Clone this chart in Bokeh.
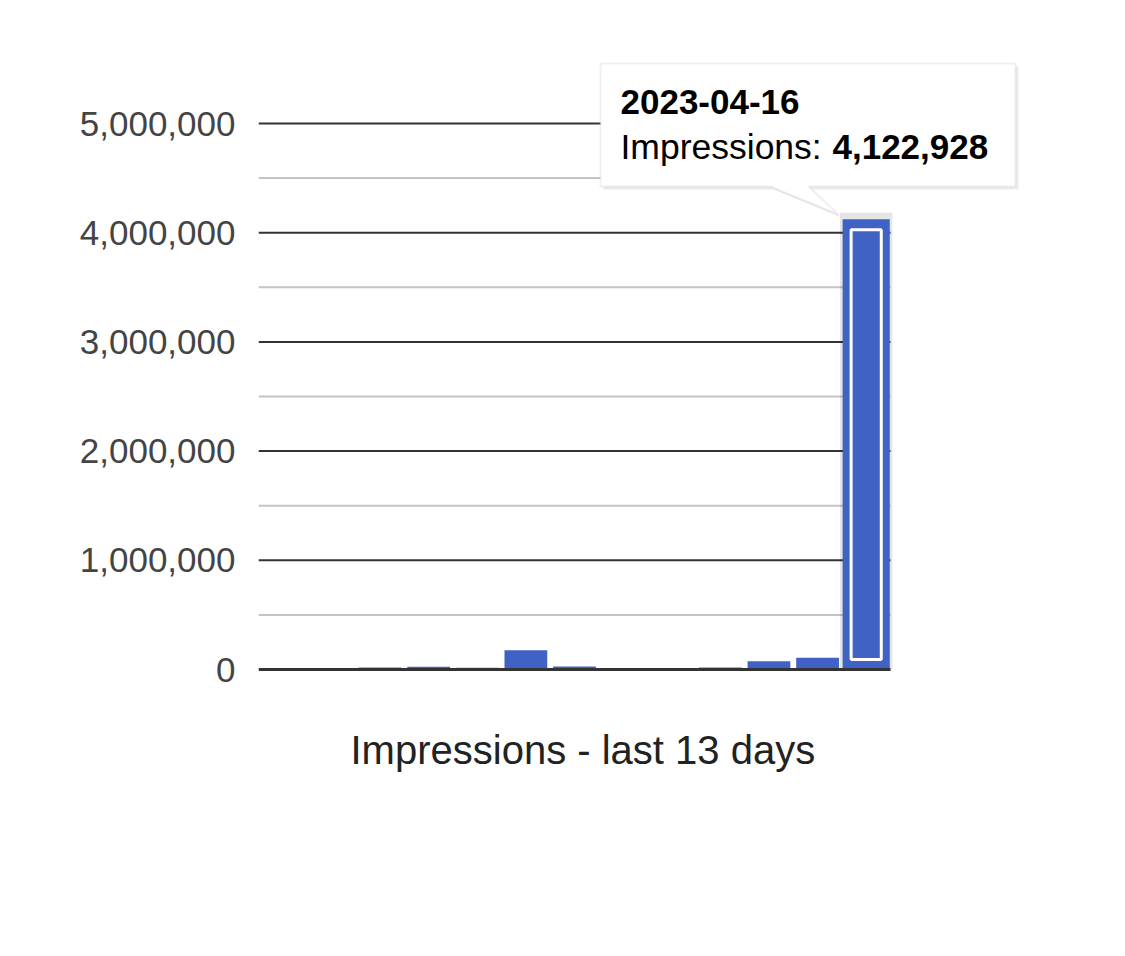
from bokeh.plotting import figure
from bokeh.models import (Range1d, FixedTicker, NumeralTickFormatter,
                          Label, PolyAnnotation, Title)
from bokeh.embed import file_html
from bokeh.resources import INLINE

# ---- data ----
dates = ["2023-04-04", "2023-04-05", "2023-04-06", "2023-04-07", "2023-04-08",
         "2023-04-09", "2023-04-10", "2023-04-11", "2023-04-12", "2023-04-13",
         "2023-04-14", "2023-04-15", "2023-04-16"]
impressions = [0, 0, 19000, 25000, 16000, 177000, 28000, 0, 0, 19000, 76000, 108000, 4122928]
y_max = 5000000
major_step = 1000000
title_text = "Impressions - last 13 days"
tip_date = dates[-1]
tip_label = "Impressions: "
tip_value = f"{impressions[-1]:,}"

FONT = "Liberation Sans"
BAR = "#4062C5"
W, H = 1117, 948

n = len(dates)
xs = list(range(n))
major_ticks = list(range(0, y_max + 1, major_step))
minor_ticks = [t + major_step // 2 for t in major_ticks[:-1]]

# layout (page pixels): chart area 258..890 wide, 5M at 123, 0 at 669
FL, FT, FB = 258, 55, 671
step_px = 632 / n
unit_px = 546 / y_max
y_start = -(FB - 669) / unit_px
y_end = y_start + (FB - FT) / unit_px
x_start = -0.5
x_end = x_start + (1026 - FL) / step_px
FW, FH = 1026 - FL, FB - FT

p = figure(width=W, height=H, output_backend="svg", toolbar_location=None,
           x_range=Range1d(x_start, x_end), y_range=Range1d(y_start, y_end),
           min_border_left=FL, min_border_right=W - FL - FW, min_border_top=FT,
           min_border_bottom=H - FT - FH, outline_line_color=None, tools="")
p.background_fill_color = "white"
p.border_fill_color = "white"
p.grid.visible = False
p.xaxis.visible = False

# grid lines limited to the chart area
left_edge, right_edge = xs[0] - 0.5, xs[-1] + 0.5
p.segment(x0=[left_edge] * len(minor_ticks), x1=[right_edge] * len(minor_ticks),
          y0=minor_ticks, y1=minor_ticks, line_color="#c4c4c4", line_width=2)
p.segment(x0=[left_edge] * (len(major_ticks) - 1), x1=[right_edge] * (len(major_ticks) - 1),
          y0=major_ticks[1:], y1=major_ticks[1:], line_color="#333333", line_width=2)

# bars (all but hovered)
p.vbar(x=xs[:-1], top=impressions[:-1], width=0.88, fill_color=BAR, line_color=None)
# hovered bar: soft shadow, wider bar, white inner outline
p.vbar(x=[xs[-1]], top=[impressions[-1] + 60000], width=1.08, fill_color="#000000",
       fill_alpha=0.10, line_color=None)
p.vbar(x=[xs[-1]], top=[impressions[-1]], width=0.97, fill_color=BAR, line_color=None)
p.vbar(x=[xs[-1]], bottom=[92000], top=[impressions[-1] - 95000], width=0.62,
       fill_color=None, line_color="white", line_width=3)

# baseline over the bars
p.segment(x0=[left_edge], x1=[right_edge], y0=[major_ticks[0]], y1=[major_ticks[0]],
          line_color="#333333", line_width=3)

# y axis
ya = p.yaxis[0]
ya.ticker = FixedTicker(ticks=major_ticks)
ya.formatter = NumeralTickFormatter(format="0,0")
ya.axis_line_color = None
ya.major_tick_line_color = None
ya.minor_tick_line_color = None
ya.major_label_standoff = 17
ya.major_label_text_font = FONT
ya.major_label_text_font_size = "35px"
ya.major_label_text_color = "#444444"

# title below chart (left aligned, shifted to sit centred under the bars)
p.add_layout(Title(text=title_text, align="left", offset=92, text_font=FONT,
                   text_font_size="40px", text_font_style="normal", text_color="#222222",
                   standoff=109), "below")

# ---- tooltip (screen coordinates relative to the frame, y upward from its bottom) ----
def sx(px):
    return px - FL

def sy(py):
    return FB - py

box_x = [600, 1015, 1015, 808, 838, 770, 600]
box_y = [63, 63, 186, 186, 214, 186, 186]
p.add_layout(PolyAnnotation(xs=[sx(v) + 3 for v in box_x], ys=[sy(v) - 3 for v in box_y],
                            xs_units="screen", ys_units="screen",
                            fill_color="#000000", fill_alpha=0.08, line_color=None))
p.add_layout(PolyAnnotation(xs=[sx(v) for v in box_x], ys=[sy(v) for v in box_y],
                            xs_units="screen", ys_units="screen",
                            fill_color="white", fill_alpha=1, line_color="#cccccc",
                            line_width=2))
p.add_layout(Label(x=sx(620), y=sy(101), x_units="screen", y_units="screen", text=tip_date,
                   text_font=FONT, text_font_size="35px", text_font_style="bold",
                   text_color="black", text_baseline="alphabetic"))
p.add_layout(Label(x=sx(620), y=sy(146), x_units="screen", y_units="screen", text=tip_label,
                   text_font=FONT, text_font_size="35.5px", text_color="black",
                   text_baseline="alphabetic"))
p.add_layout(Label(x=sx(832), y=sy(146), x_units="screen", y_units="screen", text=tip_value,
                   text_font=FONT, text_font_size="35px", text_font_style="bold",
                   text_color="black", text_baseline="alphabetic"))

open("out.html", "w").write(file_html(p, INLINE))
